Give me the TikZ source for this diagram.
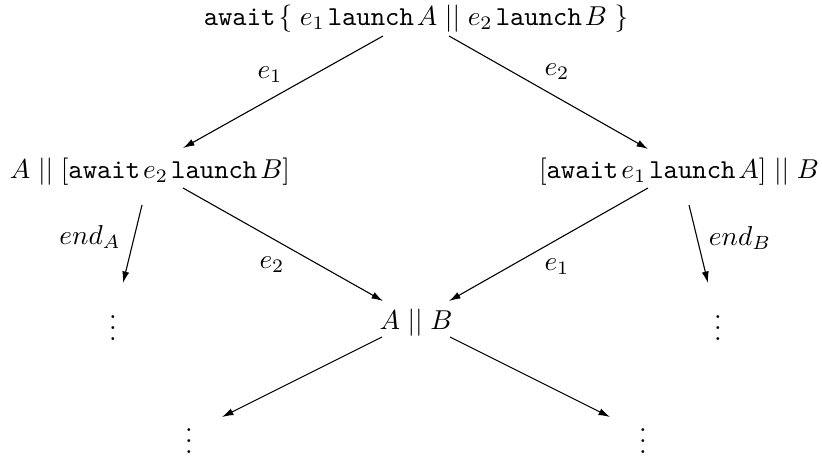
\documentclass[tikz,border=0pt]{standalone}
\usepackage{amsmath,amssymb}
\usetikzlibrary{arrows.meta,calc}
\tikzset{
  >={Latex[length=4.2pt,width=2.6pt]},
  state/.style={inner sep=0pt,font=\normalsize},
  lbl/.style={inner sep=0pt,font=\normalsize},
  trans/.style={->,line width=0.4pt},
}
\newcommand{\kw}[1]{\texttt{#1}}
\newcommand{\sep}{\mskip2mu}
\newcommand{\bars}{\mathrel{||}}

\begin{document}
\begin{tikzpicture}[x=0.01287cm,y=-0.01287cm]
\useasboundingbox (0,0) rectangle (822,458);

% states of the program
\node[state] (top) at (416,19)
  {$\kw{await}\sep\{\;e_1\sep\kw{launch}\sep A \bars e_2\sep\kw{launch}\sep B\;\}$};
\node[state] (lft) at (150,172) {$A \bars [\kw{await}\sep e_2\sep\kw{launch}\sep B]$};
\node[state] (rgt) at (679,172) {$[\kw{await}\sep e_1\sep\kw{launch}\sep A] \bars B$};
\node[state] (mid) at (416,323) {$A \bars B$};
\node[state] (ldots) at (113,320) {$\vdots$};
\node[state] (rdots) at (718,320) {$\vdots$};
\node[state] (bldots) at (189,433) {$\vdots$};
\node[state] (brdots) at (643,433) {$\vdots$};

% transitions
\draw[trans] ($(top)+(-33,17)$) -- ($(lft)+(33,-24)$);
\draw[trans] ($(top)+(33,17)$)  -- ($(rgt)+(-31,-23)$);
\draw[trans] ($(lft)+(33,16)$)  -- ($(mid)+(-33,-22)$);
\draw[trans] ($(rgt)+(-31,16)$) -- ($(mid)+(33,-22)$);
\draw[trans] ($(lft)+(-8,33)$)  -- ($(ldots)+(10,-37)$);
\draw[trans] ($(rgt)+(10,33)$)  -- ($(rdots)+(-10,-37)$);
\draw[trans] ($(mid)+(-34,14)$) -- ($(bldots)+(33,-16)$);
\draw[trans] ($(mid)+(34,14)$)  -- ($(brdots)+(-33,-16)$);

% event labels
\node[lbl] (lTopL) at (270,75) {$e_1$};
\node[lbl] (lTopR) at (557,72) {$e_2$};
\node[lbl] (lMidL) at (272,265) {$e_2$};
\node[lbl] (lMidR) at (557,267) {$e_1$};
\node[lbl] (lEndA) at (90,237) {$end_A$};
\node[lbl] (lEndB) at (740,238) {$end_B$};

\end{tikzpicture}
\end{document}
